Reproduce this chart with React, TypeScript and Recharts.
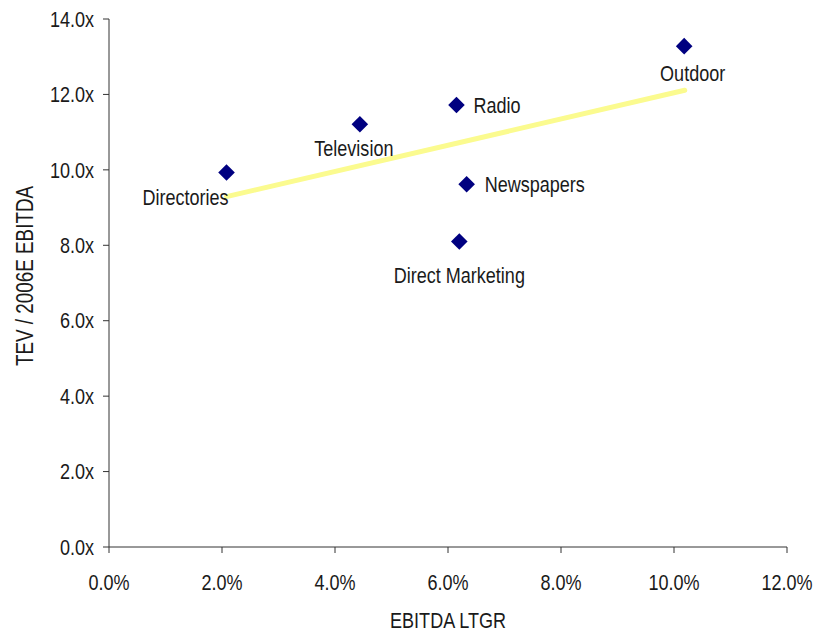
import { ScatterChart, Scatter, XAxis, YAxis, LabelList } from 'recharts'

// sector names with EBITDA long-term growth (%) and TEV / 2006E EBITDA multiple
const sectors = ['Directories', 'Television', 'Radio', 'Newspapers', 'Direct Marketing', 'Outdoor']
const growth = [2.08, 4.44, 6.15, 6.33, 6.2, 10.18]
const multiple = [9.93, 11.21, 11.72, 9.62, 8.1, 13.28]

// linear trendline end points
const trendGrowth = [2.08, 10.19]
const trendMultiple = [9.29, 12.11]

const xTicks = [0, 2, 4, 6, 8, 10, 12]
const yTicks = [0, 2, 4, 6, 8, 10, 12, 14]

const FONT = "'Liberation Sans', Arial, sans-serif"
const FONT_SIZE = 22
const SQUEEZE = 0.82 // no narrow face installed, so condense the regular one
const TEXT = '#1a1a1a'
const AXIS = '#333333'

// where each name sits relative to its marker
const labelPos: Record<string, { dx: number; dy: number; anchor: 'start' | 'middle' | 'end' }> = {
  Directories: { dx: -41, dy: 24.5, anchor: 'middle' },
  Television: { dx: -6, dy: 24, anchor: 'middle' },
  Radio: { dx: 17, dy: 0, anchor: 'start' },
  Newspapers: { dx: 18, dy: 0, anchor: 'start' },
  'Direct Marketing': { dx: 0, dy: 34, anchor: 'middle' },
  Outdoor: { dx: 8.5, dy: 27, anchor: 'middle' },
}

const points = sectors.map((name, i) => ({ name, x: growth[i], y: multiple[i] }))
const trend = trendGrowth.map((x, i) => ({ x, y: trendMultiple[i] }))

function NarrowText({
  x, y, anchor, dy, rotate = 0, size = FONT_SIZE, children,
}: {
  x: number; y: number; anchor: 'start' | 'middle' | 'end'; dy: string; rotate?: number; size?: number; children: any
}) {
  return (
    <text
      transform={`translate(${x},${y}) rotate(${rotate}) scale(${SQUEEZE},1)`}
      x={0}
      y={0}
      dy={dy}
      textAnchor={anchor}
      fontFamily={FONT}
      fontSize={size}
      fill={TEXT}
    >
      {children}
    </text>
  )
}

function Diamond(props: any) {
  const { cx, cy } = props
  if (cx == null || cy == null) return <g />
  const r = 8.3
  return (
    <path
      d={`M${cx},${cy - r}L${cx + r},${cy}L${cx},${cy + r}L${cx - r},${cy}Z`}
      fill="#000080"
    />
  )
}

function SectorLabel(props: any) {
  const { x, y, width, height, value } = props
  const pos = labelPos[value] ?? { dx: 0, dy: 0, anchor: 'middle' }
  const cx = x + (width ?? 0) / 2
  const cy = y + (height ?? 0) / 2
  return (
    <NarrowText x={cx + pos.dx} y={cy + pos.dy} anchor={pos.anchor} dy="0.35em">
      {value}
    </NarrowText>
  )
}

function XTick(props: any) {
  const { x, y, payload } = props
  return (
    <NarrowText x={x} y={y} anchor="middle" dy="0.71em">
      {`${payload.value.toFixed(1)}%`}
    </NarrowText>
  )
}

function YTick(props: any) {
  const { x, y, payload } = props
  return (
    <NarrowText x={x} y={y} anchor="end" dy="0.35em">
      {`${payload.value.toFixed(1)}x`}
    </NarrowText>
  )
}

function XTitle(props: any) {
  const { x, y, width, height } = props.viewBox
  return (
    <NarrowText x={x + width / 2} y={y + height + 1} anchor="middle" dy="0">
      EBITDA LTGR
    </NarrowText>
  )
}

function YTitle(props: any) {
  const { x, y, height } = props.viewBox
  return (
    <NarrowText x={x + 9} y={y + height / 2 - 7} anchor="middle" dy="0.35em" rotate={-90} size={23}>
      TEV / 2006E EBITDA
    </NarrowText>
  )
}

export default function App() {
  return (
    <div style={{ position: 'absolute', left: 0, top: 0, width: 813, height: 631 }}>
      <ScatterChart width={813} height={631} margin={{ top: 19, right: 26, bottom: 4, left: 16 }}>
        <XAxis
          type="number"
          dataKey="x"
          domain={[0, 12]}
          ticks={xTicks}
          tick={XTick}
          tickSize={6}
          tickMargin={21}
          height={80}
          stroke={AXIS}
          interval={0}
          label={{ content: XTitle }}
        />
        <YAxis
          type="number"
          dataKey="y"
          domain={[0, 14]}
          ticks={yTicks}
          tick={YTick}
          tickSize={6}
          tickMargin={9}
          width={93}
          stroke={AXIS}
          interval={0}
          label={{ content: YTitle }}
        />
        <Scatter
          data={trend}
          line={{ stroke: '#FBFB8F', strokeWidth: 5, strokeLinecap: 'round' }}
          lineType="joint"
          shape={() => <g />}
          isAnimationActive={false}
        />
        <Scatter data={points} shape={Diamond} isAnimationActive={false}>
          <LabelList dataKey="name" content={SectorLabel} />
        </Scatter>
      </ScatterChart>
    </div>
  )
}
